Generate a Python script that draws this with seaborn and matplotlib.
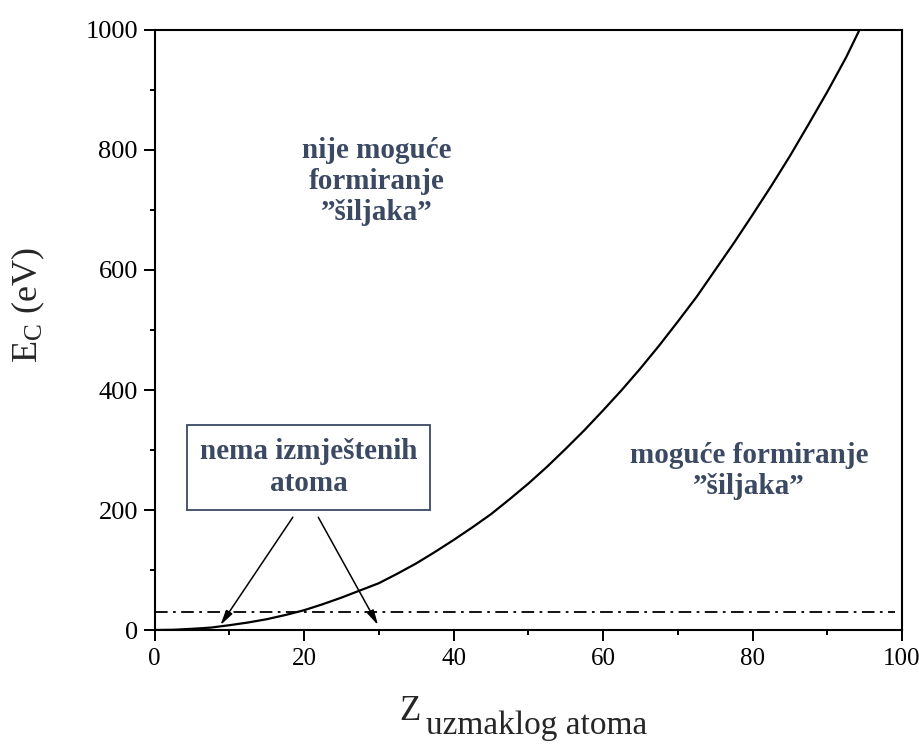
import matplotlib
matplotlib.use("Agg")
import matplotlib.pyplot as plt
import seaborn as sns
import pandas as pd

# curve
Z = [0, 2.5, 5, 7.5, 10, 12.5, 15, 17.5, 20, 22.5, 25, 27.5, 30, 32.5, 35, 37.5,
     40, 42.5, 45, 47.5, 50, 52.5, 55, 57.5, 60, 62.5, 65, 67.5, 70, 72.5, 75,
     77.5, 80, 82.5, 85, 87.5, 90, 92.5, 95]
E_c = [0, 0.4, 2, 4, 8, 12.5, 18, 25, 33, 43, 54, 66, 78, 94, 111, 130,
       150, 171, 193, 218, 244, 272, 302, 333, 366, 400, 436, 474, 514, 555, 600,
       645, 692, 740, 790, 843, 897, 954, 1018]

# threshold line
E_threshold = 30
threshold_x = [0, 99]

x_ticks = [0, 20, 40, 60, 80, 100]
y_ticks = [0, 200, 400, 600, 800, 1000]

text_color = "#3b4963"

sns.set_style("ticks")
plt.rcParams["font.family"] = ["Liberation Serif", "DejaVu Serif"]
plt.rcParams["mathtext.fontset"] = "custom"
plt.rcParams["mathtext.rm"] = "Liberation Serif"

df = pd.DataFrame({"Z": Z, "E": E_c})

fig = plt.figure(figsize=(9.2, 7.44), dpi=100)
ax = fig.add_axes([0.168, 0.1532, 0.8125, 0.8065])

sns.lineplot(data=df, x="Z", y="E", color="black", linewidth=1.6, ax=ax)
ax.hlines(E_threshold, threshold_x[0], threshold_x[1], color="black",
          linewidth=1.3, linestyles=[(0, (7, 3, 1.5, 3))])

ax.set_xlim(0, 100)
ax.set_ylim(0, 1000)
ax.set_xticks(x_ticks)
ax.set_yticks(y_ticks)
ax.set_xticks(range(10, 100, 20), minor=True)
ax.set_yticks(range(100, 1000, 200), minor=True)
ax.tick_params(which="major", direction="out", length=8, width=1.4,
               pad=4, color="black", labelcolor="black")
ax.tick_params(axis="y", which="major", labelsize=19)
ax.tick_params(axis="x", which="major", labelsize=18, pad=5)
ax.tick_params(which="minor", direction="out", length=3.8, width=1.4, color="black")
for s in ax.spines.values():
    s.set_linewidth(1.5)
    s.set_color("black")
ax.set_xlabel("")
ax.set_ylabel("")

# axis labels
fig.text(28 / 920, 1 - 305 / 744, r"$\mathregular{E_C}$ (eV)", rotation=90,
         ha="center", va="center", fontsize=26)
fig.text(399 / 920, 1 - 720 / 744, "Z", ha="left", va="baseline", fontsize=25)
fig.text(426 / 920, 1 - 734 / 744, "uzmaklog atoma", ha="left", va="baseline", fontsize=24)

# region labels
ax.text(29.7, 747, "nije moguće\nformiranje\n\u201d\u0161iljaka\u201d", ha="center", va="center",
        fontsize=21, fontweight="bold", color=text_color, linespacing=1.2)
ax.text(79.5, 265, "moguće formiranje\n\u201d\u0161iljaka\u201d", ha="center", va="center",
        fontsize=21, fontweight="bold", color=text_color, linespacing=1.2)
ax.text(20.6, 271, "nema izmještenih\natoma", ha="center", va="center",
        fontsize=21, fontweight="bold", color=text_color, linespacing=1.2,
        bbox=dict(boxstyle="square,pad=0.45", facecolor="white",
                  edgecolor=text_color, linewidth=1.3))

arrow = dict(arrowstyle="-|>,head_length=0.9,head_width=0.22", color="black",
             linewidth=1.1, shrinkA=0, shrinkB=0)
ax.annotate("", xy=(8.8, 8), xytext=(18.5, 188), arrowprops=arrow)
ax.annotate("", xy=(29.9, 8), xytext=(21.9, 188), arrowprops=arrow)

fig.savefig("out.png", dpi=100)
